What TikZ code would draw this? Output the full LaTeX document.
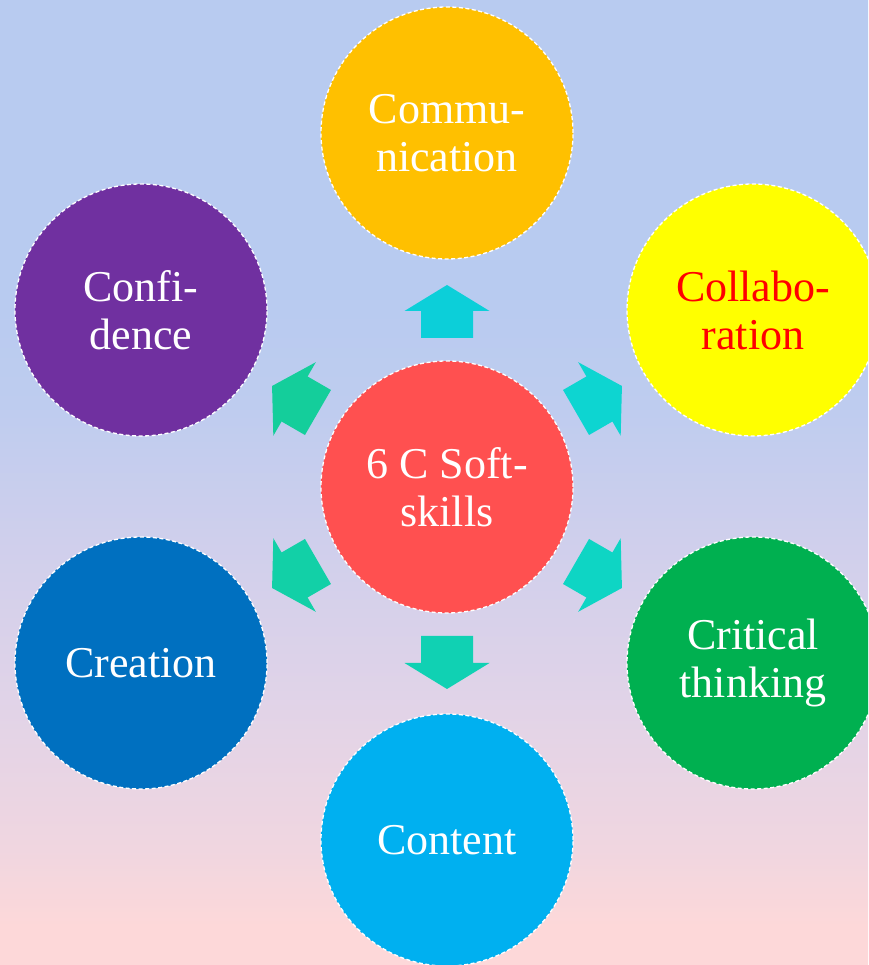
\documentclass[tikz,border=0pt]{standalone}
\usepackage{fontspec}
\setmainfont{Liberation Serif}
\definecolor{bgA}{HTML}{B8CBF0}
\definecolor{bgB}{HTML}{BECCEF}
\definecolor{bgC}{HTML}{CFCFEC}
\definecolor{bgD}{HTML}{E0D3E8}
\definecolor{bgE}{HTML}{F0D6E0}
\definecolor{bgF}{HTML}{FDD8D9}
\definecolor{cRed}{HTML}{FF5050}
\definecolor{cOrange}{HTML}{FFC000}
\definecolor{cYellow}{HTML}{FFFF00}
\definecolor{cPurple}{HTML}{7030A0}
\definecolor{cBlue}{HTML}{0070C0}
\definecolor{cGreen}{HTML}{00B050}
\definecolor{cSky}{HTML}{00B0F0}
\definecolor{aUp}{HTML}{0CCFD9}
\definecolor{aUR}{HTML}{0DD5D1}
\definecolor{aDR}{HTML}{0ED5C4}
\definecolor{aDn}{HTML}{10D1B3}
\definecolor{aDL}{HTML}{12D0A7}
\definecolor{aUL}{HTML}{14CE9B}
\pgfdeclareverticalshading{bgshade}{100bp}{color(0bp)=(bgF); color(27bp)=(bgF); color(31bp)=(bgE); color(39bp)=(bgD); color(47bp)=(bgC); color(54bp)=(bgB); color(60bp)=(bgA); color(100bp)=(bgA)}
\tikzset{
  circ/.style={circle, minimum size=252pt, inner sep=0pt, draw=white, line width=1.3pt,
    dash pattern=on 4pt off 2.5pt, align=center, text=white,
    font=\fontsize{44}{48}\selectfont}
}
\newcommand{\blockarr}[2]{%
  \begin{scope}[shift={(cen.center)}, rotate=#1]
    \fill[#2] (149,26) -- (176,26) -- (176,42.5) -- (202,0) -- (176,-42.5) -- (176,-26) -- (149,-26) -- cycle;
  \end{scope}}
\begin{document}
\begin{tikzpicture}[x=1pt,y=1pt]
\useasboundingbox (0,0) rectangle (868,965);
\clip (0,0) rectangle (868,965);
\shade[shading=bgshade] (0,0) rectangle (868,965);
\node[circ, fill=cRed] (cen) at (447,478) {6 C Soft-\\skills};
\node[circ, fill=cOrange] (com) at (447,832) {Commu-\\nication};
\node[circ, fill=cYellow, text=red] (col) at (753,655) {Collabo-\\ration};
\node[circ, fill=cPurple] (conf) at (141,655) {Confi-\\dence};
\node[circ, fill=cBlue] (cre) at (141,302) {Creation};
\node[circ, fill=cGreen] (cri) at (753,302) {Critical\\thinking};
\node[circ, fill=cSky] (cont) at (447,125) {Content};
\blockarr{90}{aUp}
\blockarr{30}{aUR}
\blockarr{-30}{aDR}
\blockarr{-90}{aDn}
\blockarr{-150}{aDL}
\blockarr{150}{aUL}
\end{tikzpicture}
\end{document}
